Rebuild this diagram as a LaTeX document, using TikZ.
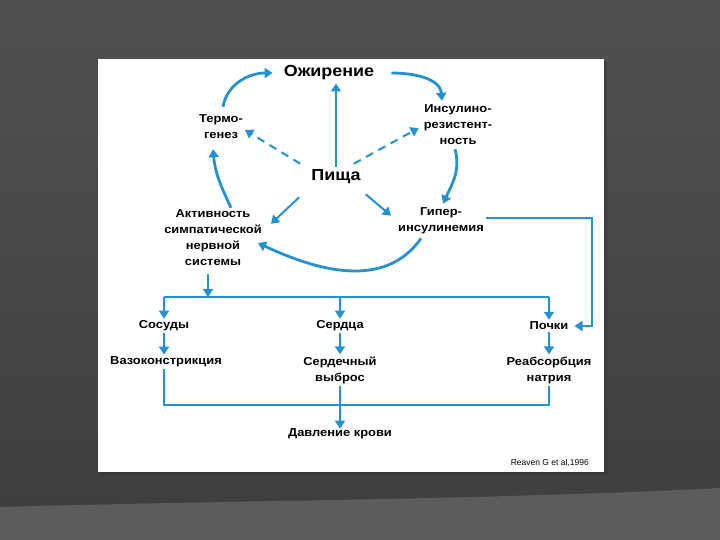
\documentclass[tikz,border=0pt]{standalone}
\usepackage{fontspec}
\setmainfont{Liberation Sans}
\newfontfamily\labfont[FakeStretch=1.12]{Liberation Sans}
\usetikzlibrary{arrows.meta}

\definecolor{flowblue}{RGB}{36,146,206}
\definecolor{bgdark}{RGB}{62,62,62}
\definecolor{bgtop}{RGB}{80,80,80}
\definecolor{bgband}{RGB}{92,92,92}

\tikzset{
  lbl/.style={font=\labfont\bfseries\fontsize{11.5}{16}\selectfont, align=center, inner sep=2pt},
  big/.style={font=\labfont\bfseries\fontsize{16}{18}\selectfont, inner sep=3pt},
  note/.style={font=\fontsize{8.5}{9}\selectfont, inner sep=1pt},
  wire/.style={draw=flowblue, line width=2pt},
  arr/.style={wire, -{Triangle[width=10pt,length=8pt]}},
  dasharr/.style={arr, dash pattern=on 8pt off 6pt},
  loop/.style={arr, line width=2.8pt}
}

\begin{document}
\begin{tikzpicture}[x=1pt,y=-1pt]
    \useasboundingbox (0,0) rectangle (720,540);
    % Background
    \shade[top color=bgtop, bottom color=bgdark] (0,0) rectangle (720,540);
    \fill[bgband] (0,507) .. controls (250,500) and (480,500) .. (720,488) -- (720,540) -- (0,540) -- cycle;
    \fill[black!80, opacity=0.5] (100,61) rectangle (607,475);
    \fill[white] (98,59) rectangle (604,472);

    % Nodes
    \node[big] (ozh) at (329,73) {Ожирение};
    \node[lbl] (termo) at (221,127) {Термо-\\генез};
    \node[lbl] (insres) at (458,125) {Инсулино-\\резистент-\\ность};
    \node[big] (pisha) at (336,177) {Пища};
    \node[lbl] (akt) at (213,238) {Активность\\симпатической\\нервной\\системы};
    \node[lbl] (giper) at (441,221) {Гипер-\\инсулинемия};
    \node[lbl] (sos) at (164,326) {Сосуды};
    \node[lbl] (serd) at (340,326) {Сердца};
    \node[lbl] (poch) at (549,326) {Почки};
    \node[lbl] (vazo) at (166,362) {Вазоконстрикция};
    \node[lbl] (vybros) at (340,370) {Сердечный\\выброс};
    \node[lbl] (reabs) at (549,370) {Реабсорбция\\натрия};
    \node[lbl] (davl) at (340,434) {Давление крови};
    \node[note, anchor=east] (ref) at (590,463) {Reaven G et al,1996};

    % Junctions
    \coordinate (aktbar) at (208,297);
    \coordinate (barL) at (164,297);
    \coordinate (barR) at (549,297);
    \coordinate (joinL) at (164,405);
    \coordinate (joinR) at (549,405);
    \coordinate (turn) at (592,218);

    % Upper loop
    \draw[loop] ([shift={(2,-6)}]termo.north) to[out=80,in=180] ([xshift=-8pt]ozh.west);
    \draw[loop] ([xshift=14pt]ozh.east) to[out=0,in=95] ([shift={(-16,-2)}]insres.north);
    \draw[loop] ([shift={(-3,2)}]insres.south) to[out=-75,in=65] ([shift={(2,-2)}]giper.north);
    \draw[loop] ([shift={(-20,2)}]giper.south) to[out=-125,in=-25] ([shift={(-6,5)}]akt.east);
    \draw[loop] ([shift={(18,0)}]akt.north) to[out=115,in=-85] ([shift={(-8,8)}]termo.south);

    % From food
    \draw[arr] (pisha.north) -- (pisha.north |- ozh.south);
    \draw[dasharr] ([shift={(-8,-3)}]pisha.north west) -- ([shift={(0,3)}]termo.east);
    \draw[dasharr] ([shift={(-10,-3)}]pisha.north east) -- ([shift={(-3,3)}]insres.west);
    \draw[arr] ([shift={(-9,10)}]pisha.south west) -- ([shift={(7,16)}]akt.north east);
    \draw[arr] ([shift={(2,7)}]pisha.south east) -- ([shift={(-5,10)}]giper.north west);

    % Lower part
    \draw[arr] ([yshift=-6pt]akt.south -| aktbar) -- (aktbar);
    \draw[wire] (barL) -- (barR);
    \draw[arr] (barL) -- (barL |- sos.north);
    \draw[arr] (serd |- barL) -- (serd.north);
    \draw[arr] (barR) -- (barR |- poch.north);
    \draw[arr] (giper.east |- turn) -- (turn) -- (turn |- poch) -- ([xshift=4pt]poch.east);
    \draw[arr] (sos.south) -- (sos.south |- vazo.north);
    \draw[arr] (serd.south) -- (vybros.north);
    \draw[arr] (poch.south) -- (reabs.north);
    \draw[wire] (joinL |- vazo.south) -- (joinL) -- (joinR) -- (reabs.south);
    \draw[arr] (vybros.south) -- ([yshift=-2pt]davl.north);
\end{tikzpicture}
\end{document}
